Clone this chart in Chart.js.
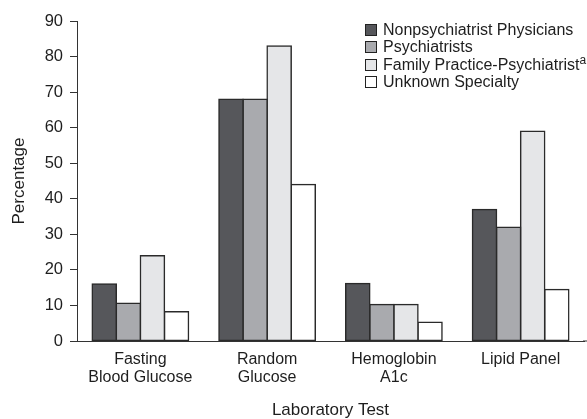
<!DOCTYPE html>
<html>
<head>
<meta charset="utf-8">
<script src="https://cdn.jsdelivr.net/npm/chart.js@4"></script>
<style>
  body { margin: 0; background: #fff; }
  #wrap { position: relative; width: 587px; height: 419px; }
  #legend { position: absolute; left: 365px; top: 21px; font-family: "Liberation Sans", Arial, sans-serif; font-size: 16px; color: #1e1e1e; line-height: 17.3px; }
  #legend .row { white-space: nowrap; }
  #legend .box { display: inline-block; width: 10px; height: 10px; border: 1.3px solid #222; margin-right: 6px; vertical-align: -1px; }
  #legend sup { font-size: 12px; line-height: 0; vertical-align: 6px; }
</style>
</head>
<body>
<div id="wrap">
  <canvas id="chart" width="587" height="419"></canvas>
  <div id="legend"></div>
</div>
<script>
const categories = [["Fasting", "Blood Glucose"], ["Random", "Glucose"], ["Hemoglobin", "A1c"], "Lipid Panel"];
const seriesNames = ["Nonpsychiatrist Physicians", "Psychiatrists", "Family Practice-Psychiatrist", "Unknown Specialty"];
const nonpsychiatrist = [16, 68, 16.2, 37];
const psychiatrists = [10.6, 68, 10.3, 32];
const familyPractice = [24, 83, 10.3, 59];
const unknownSpecialty = [8.2, 44, 5.3, 14.5];
const yTicks = [0, 10, 20, 30, 40, 50, 60, 70, 80, 90];

const colors = ["#56575b", "#a9aaae", "#e5e6e8", "#ffffff"];
const allValues = [nonpsychiatrist, psychiatrists, familyPractice, unknownSpecialty];

// legend as html so the superscript stays real text
const legendEl = document.getElementById("legend");
seriesNames.forEach((name, i) => {
  const row = document.createElement("div");
  row.className = "row";
  row.innerHTML = '<span class="box" style="background:' + colors[i] + '"></span>' + name + (i === 2 ? "<sup>a</sup>" : "");
  legendEl.appendChild(row);
});

// extend the x axis line to the right edge like the original
const axisLine = {
  id: "axisLine",
  afterDraw(chart) {
    const { ctx, chartArea } = chart;
    const y = chart.scales.y.getPixelForValue(0);
    ctx.save();
    ctx.strokeStyle = "#333";
    ctx.lineWidth = 1;
    ctx.beginPath();
    ctx.moveTo(chartArea.right - 1, y);
    ctx.lineTo(chart.width, y);
    ctx.stroke();
    ctx.restore();
  }
};

const font = { family: "'Liberation Sans', Arial, sans-serif", size: 16 };

new Chart(document.getElementById("chart").getContext("2d"), {
  type: "bar",
  data: {
    labels: categories,
    datasets: seriesNames.map((name, i) => ({
      label: name,
      data: allValues[i],
      backgroundColor: colors[i],
      borderColor: "#2a2a2a",
      borderWidth: 1.5,
      borderSkipped: false,
      inflateAmount: 0.75,
      categoryPercentage: 0.76,
      barPercentage: 1.0,
    })),
  },
  options: {
    responsive: false,
    animation: false,
    layout: { padding: { top: 21, right: 3, left: 0, bottom: 0 } },
    plugins: {
      legend: { display: false },
      tooltip: { enabled: false },
    },
    scales: {
      x: {
        grid: { display: false, drawTicks: false },
        border: { display: true, color: "#333", width: 1 },
        ticks: { color: "#1e1e1e", font: { ...font, lineHeight: 1.1 }, padding: 10, maxRotation: 0, autoSkip: false },
        title: { display: true, text: "Laboratory Test", color: "#1e1e1e", font: { ...font, size: 17, lineHeight: 1 }, padding: { top: 0, bottom: 0 } },
        afterFit: (scale) => { scale.height = 78; },
      },
      y: {
        min: 0,
        max: 90,
        afterBuildTicks: (scale) => { scale.ticks = yTicks.map((v) => ({ value: v })); },
        grid: { display: true, drawOnChartArea: false, drawTicks: true, tickLength: 7, color: "#333" },
        border: { display: true, color: "#333", width: 1 },
        ticks: { color: "#1e1e1e", font: { ...font, size: 16.5 }, padding: 7 },
        title: { display: true, text: "Percentage", color: "#1e1e1e", font: { ...font, size: 17 }, padding: { top: 9, bottom: 0 } },
        afterFit: (scale) => { scale.width = 77; },
      },
    },
  },
  plugins: [axisLine],
});
</script>
</body>
</html>
